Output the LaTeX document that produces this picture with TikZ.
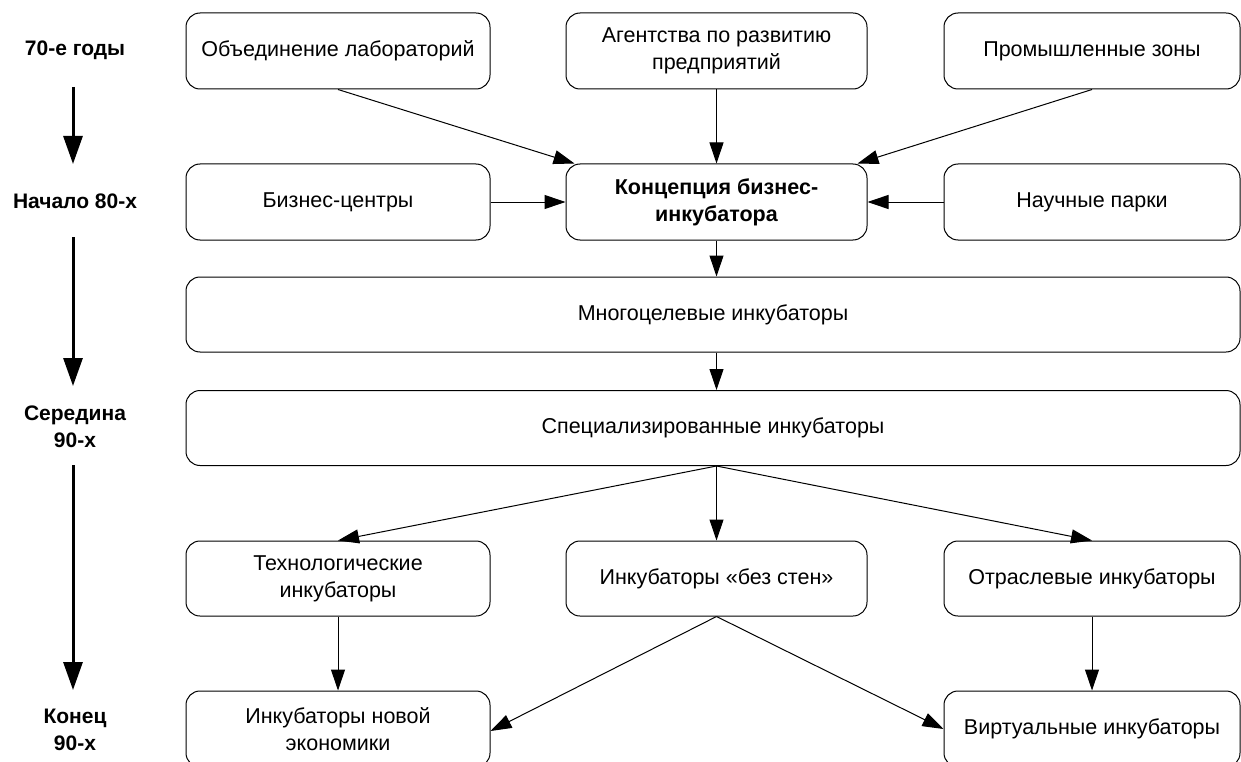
\documentclass[tikz,border=0pt]{standalone}
\usepackage{fontspec}
\setmainfont{Liberation Sans}
\usetikzlibrary{arrows.meta}
\begin{document}
\begin{tikzpicture}[x=1pt,y=-1pt,
  box/.style={draw, rounded corners=14pt, line width=1pt, align=center,
    font=\fontsize{21.5}{27}\selectfont, inner sep=0pt, minimum height=76pt},
  wide/.style={minimum width=1054pt, minimum height=75pt},
  period/.style={align=center, font=\fontsize{21}{27}\selectfont\bfseries, inner sep=0pt},
  conn/.style={line width=1pt, -{Triangle[length=21pt,width=14pt]}},
  timearrow/.style={line width=3pt, -{Triangle[length=28pt,width=19pt]}}]
\useasboundingbox (0,0) rectangle (1241,762);
\clip (0,0) rectangle (1241,762);
\fill[white] (0,0) rectangle (1241,762);

% period labels
\node[period] (t1) at (75,50) {70-е годы};
\node[period] (t2) at (75,201) {Начало 80-х};
\node[period] (t3) at (75,427) {Середина\\90-х};
\node[period] (t4) at (75,730) {Конец\\90-х};
\coordinate (a1s) at (73,87);  \coordinate (a1e) at (73,164);
\coordinate (a2s) at (73,237); \coordinate (a2e) at (73,386);
\coordinate (a3s) at (73,465); \coordinate (a3e) at (73,690);
\draw[timearrow] (a1s) -- (a1e);
\draw[timearrow] (a2s) -- (a2e);
\draw[timearrow] (a3s) -- (a3e);

% row 1
\node[box, minimum width=304pt] (obj) at (338,51) {Объединение лабораторий};
\node[box, minimum width=301pt] (agent) at (716.5,51) {Агентства по развитию\\предприятий};
\node[box, minimum width=296pt] (prom) at (1092,51) {Промышленные зоны};
% row 2
\node[box, minimum width=304pt] (biz) at (338,202) {Бизнес-центры};
\node[box, minimum width=301pt, font=\fontsize{21.5}{27}\selectfont\bfseries] (konc) at (716.5,202) {Концепция бизнес-\\инкубатора};
\node[box, minimum width=296pt] (nauch) at (1092,202) {Научные парки};
% rows 3, 4
\node[box, wide] (mnog) at (713,314.5) {Многоцелевые инкубаторы};
\node[box, wide] (spec) at (713,428) {Специализированные инкубаторы};
% row 5
\node[box, minimum width=304pt, minimum height=75pt] (tech) at (338,578.5) {Технологические\\инкубаторы};
\node[box, minimum width=301pt, minimum height=75pt] (bez) at (716.5,578.5) {Инкубаторы «без стен»};
\node[box, minimum width=296pt, minimum height=75pt] (otr) at (1092,578.5) {Отраслевые инкубаторы};
% row 6
\node[box, minimum width=304pt] (inn) at (338,729) {Инкубаторы новой\\экономики};
\node[box, minimum width=296pt] (virt) at (1092,729) {Виртуальные инкубаторы};

% connectors
\draw[conn] (obj.south) -- ([xshift=9pt]konc.north west);
\draw[conn] (agent.south) -- (konc.north);
\draw[conn] (prom.south) -- ([xshift=-10pt]konc.north east);
\draw[conn] (biz.east) -- (konc.west);
\draw[conn] (nauch.west) -- (konc.east);
\draw[conn] (konc.south) -- (konc.south |- mnog.north);
\draw[conn] (konc.south |- mnog.south) -- (konc.south |- spec.north);
\draw[conn] (bez.north |- spec.south) -- (tech.north);
\draw[conn] (bez.north |- spec.south) -- (bez.north);
\draw[conn] (bez.north |- spec.south) -- (otr.north);
\draw[conn] (tech.south) -- (inn.north);
\draw[conn] (otr.south) -- (virt.north);
\draw[conn] (bez.south) -- ([yshift=-2pt]inn.east);
\draw[conn] (bez.south) -- (virt.west);
\end{tikzpicture}
\end{document}
